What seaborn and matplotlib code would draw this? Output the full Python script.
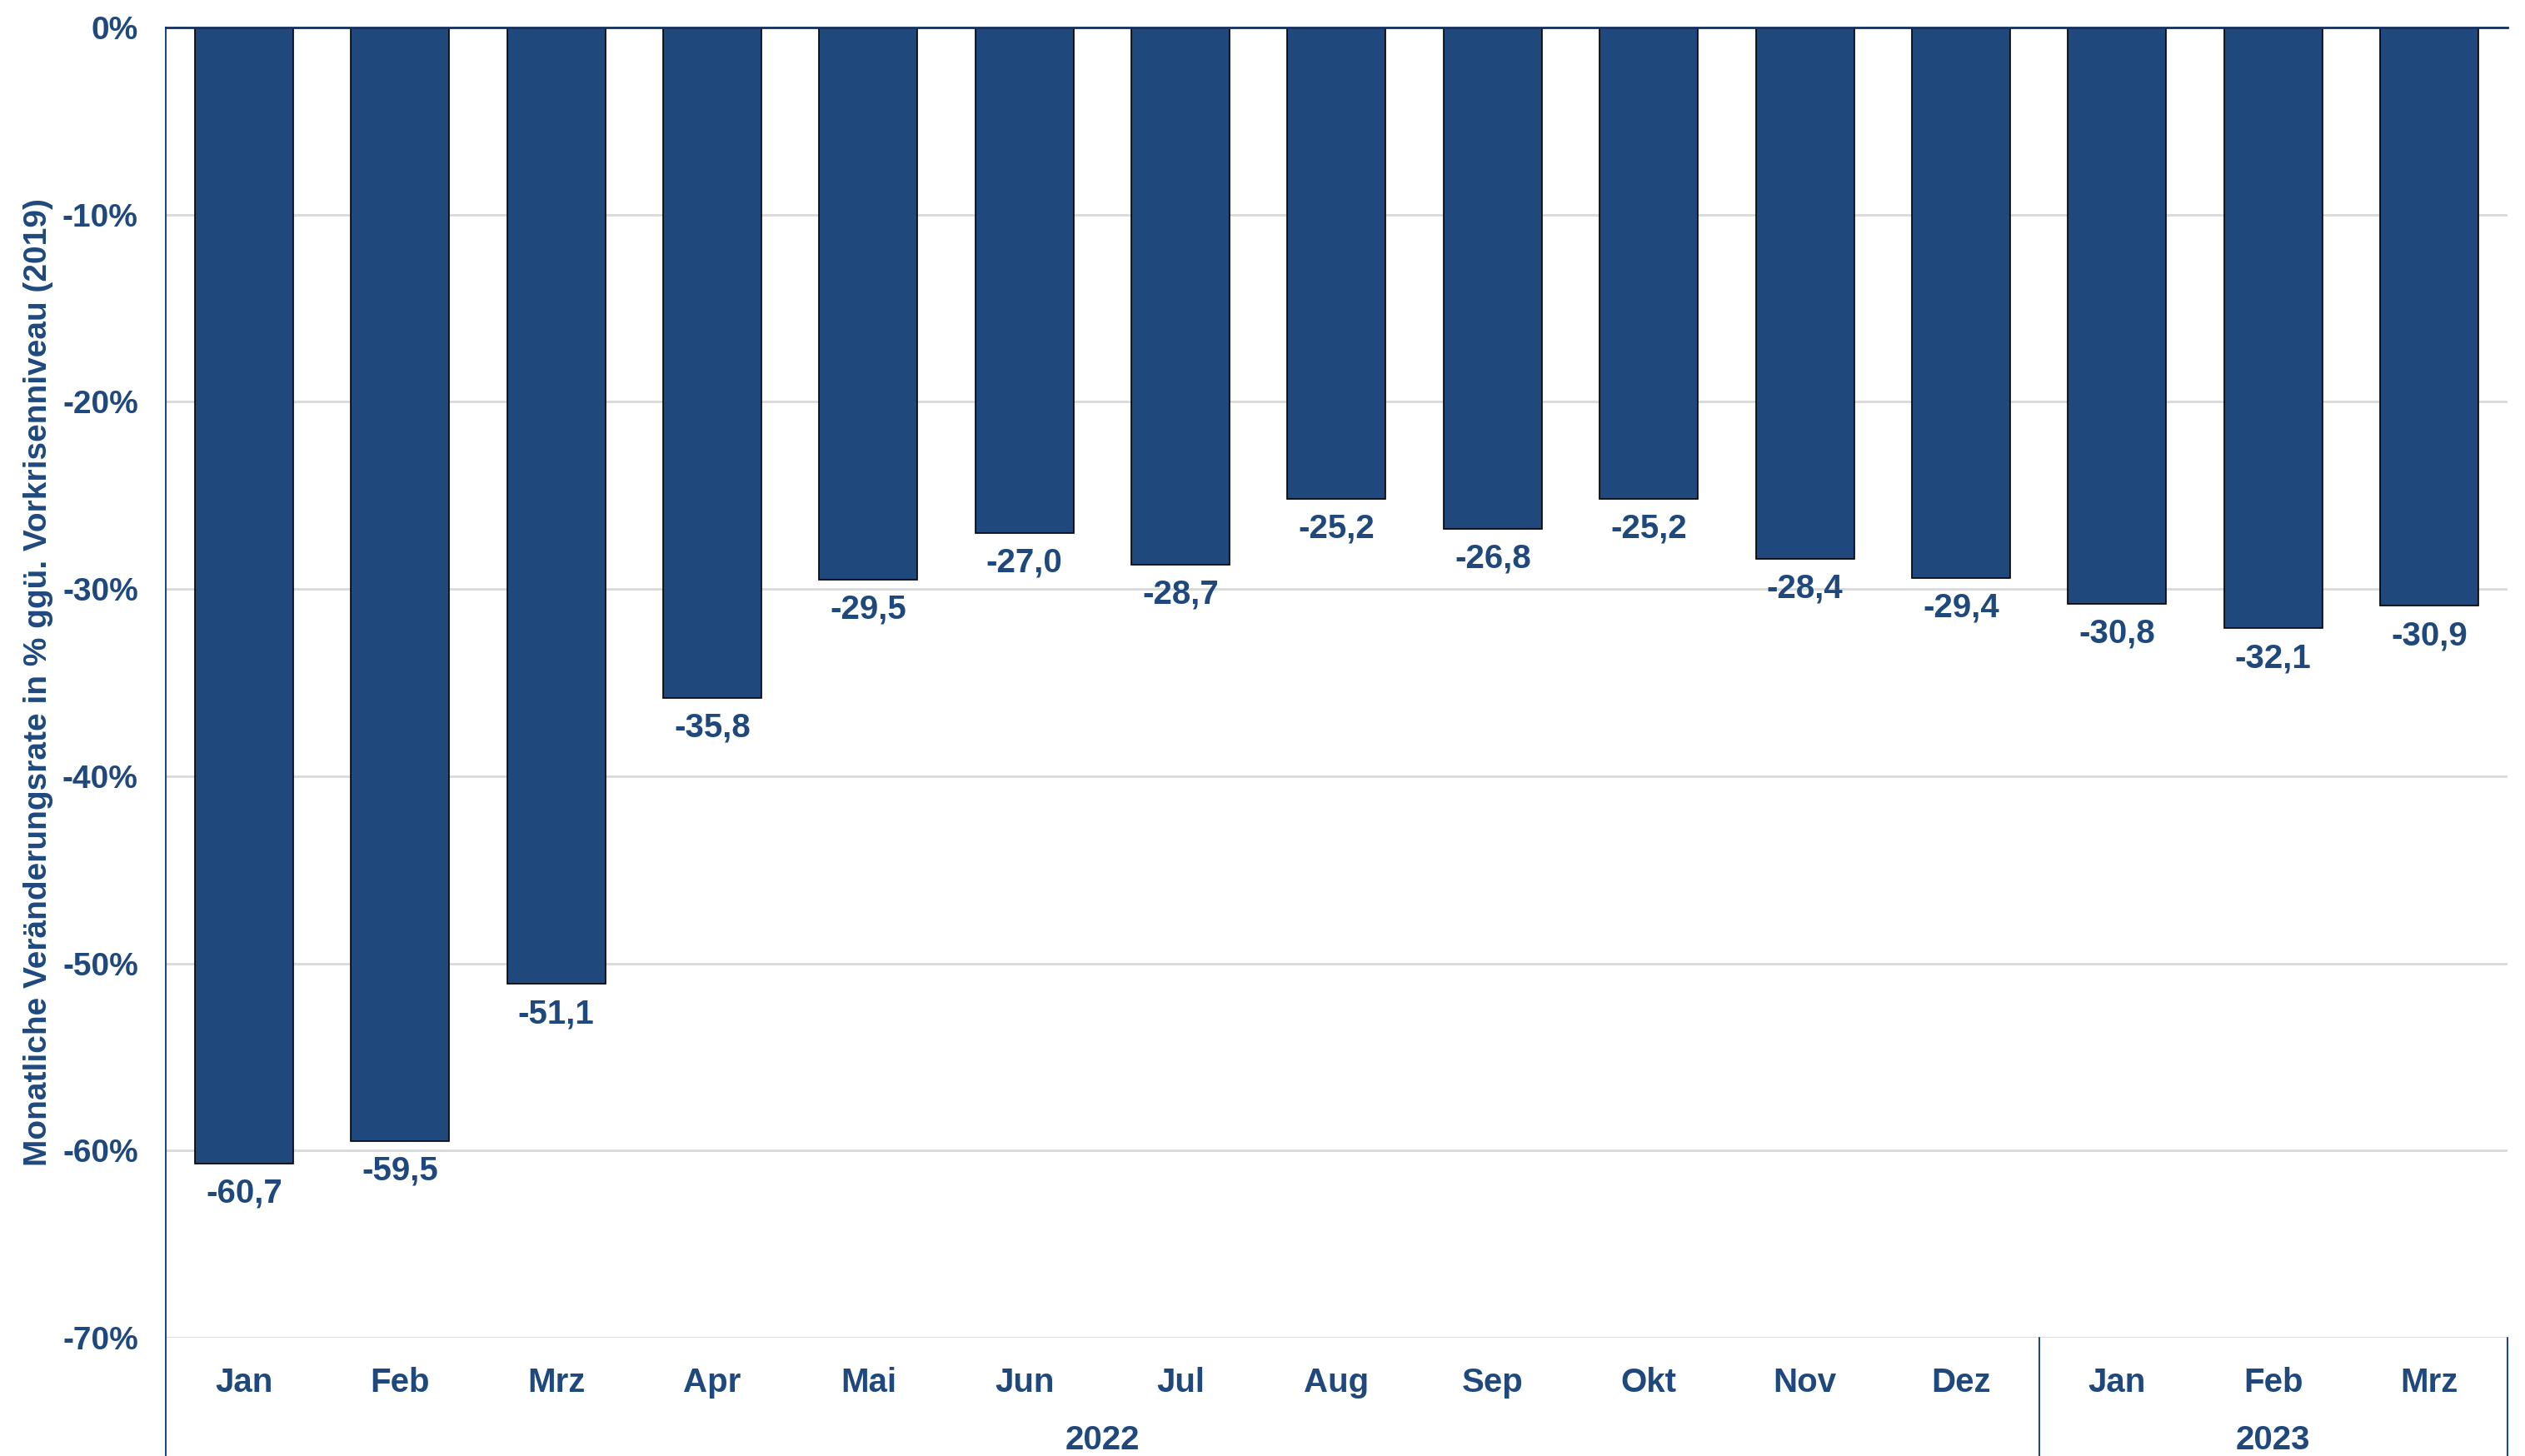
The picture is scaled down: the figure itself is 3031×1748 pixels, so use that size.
import pandas as pd
import matplotlib.pyplot as plt
import seaborn as sns

# Daten
monate = ["Jan", "Feb", "Mrz", "Apr", "Mai", "Jun", "Jul", "Aug", "Sep", "Okt", "Nov", "Dez",
          "Jan", "Feb", "Mrz"]
jahre = [2022] * 12 + [2023] * 3
werte = [-60.7, -59.5, -51.1, -35.8, -29.5, -27.0, -28.7, -25.2, -26.8, -25.2, -28.4, -29.4,
         -30.8, -32.1, -30.9]
y_ticks = [0, -10, -20, -30, -40, -50, -60, -70]

df = pd.DataFrame({"monat": monate, "jahr": jahre, "wert": werte})
df["key"] = df["monat"] + " " + df["jahr"].astype(str)

navy = "#1F497D"
bar_color = "#1F487C"

sns.set_style("white")
plt.rcParams["font.family"] = ["Liberation Sans", "DejaVu Sans"]
plt.rcParams["font.weight"] = "bold"

fig = plt.figure(figsize=(30.31, 17.48), dpi=100)
ax = fig.add_axes([0.0657, 0.0812, 0.9273, 0.8999])

sns.barplot(data=df, x="key", y="wert", color=bar_color, saturation=1, width=0.63,
            edgecolor="black", linewidth=1.2, ax=ax, zorder=3)

ax.set_ylim(-70, 0)
ax.set_xlim(-0.5, len(df) - 0.5)
ax.set_yticks(y_ticks)
ax.set_yticklabels([f"{t}%" for t in y_ticks])
ax.set_xticks(range(len(df)))
ax.set_xticklabels(df["monat"])

ax.grid(axis="y", color="#D9D9D9", linewidth=2, zorder=0)
ax.set_axisbelow(True)

for s in ["right", "bottom"]:
    ax.spines[s].set_visible(False)
ax.spines["top"].set_color("#14305E")
ax.spines["top"].set_linewidth(2)
ax.spines["top"].set_zorder(5)
ax.spines["left"].set_color(navy)
ax.spines["left"].set_linewidth(1.5)

ax.tick_params(axis="y", length=0, pad=24, labelsize=28, labelcolor=navy)
ax.tick_params(axis="x", length=0, pad=25, labelsize=29, labelcolor=navy)
for lbl in ax.get_xticklabels() + ax.get_yticklabels():
    lbl.set_fontweight("bold")

ax.set_xlabel("")
ax.set_ylabel("Monatliche Veränderungsrate in % ggü. Vorkrisenniveau (2019)",
              fontsize=28, fontweight="bold", color=navy, labelpad=8)

# Werte unter den Balken
for i, v in enumerate(df["wert"]):
    ax.annotate(f"{v:.1f}".replace(".", ","), xy=(i, v), xytext=(0, -12),
                textcoords="offset points", ha="center", va="top",
                fontsize=29, fontweight="bold", color=navy)

# Jahres-Trennlinien und Jahreslabels
trans = ax.get_xaxis_transform()
for xpos in [-0.5, 11.5, 14.5]:
    ax.plot([xpos, xpos], [0, -0.2], transform=trans, color=navy, linewidth=1.5,
            clip_on=False, zorder=5)
ax.text(5.5, -0.078, "2022", transform=trans, ha="center", va="center",
        fontsize=29, fontweight="bold", color=navy)
ax.text(13, -0.078, "2023", transform=trans, ha="center", va="center",
        fontsize=29, fontweight="bold", color=navy)

plt.savefig("out.png", dpi=100)
